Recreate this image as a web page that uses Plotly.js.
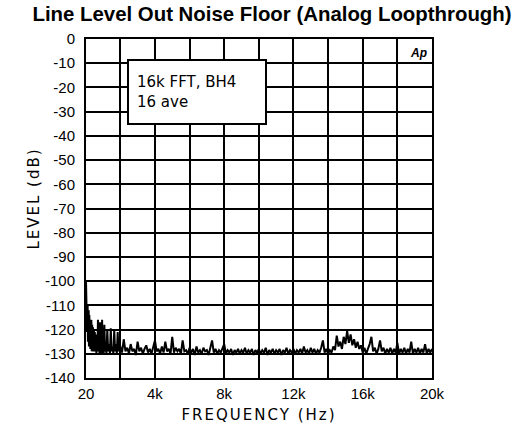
<!DOCTYPE html>
<html><head><meta charset="utf-8">
<script src="https://cdn.plot.ly/plotly-3.0.1.min.js"></script>
<style>html,body{margin:0;padding:0;background:#fff}#chart{width:517px;height:429px}
#chart .xtitle, #chart .ytitle{letter-spacing:2px}</style>
</head><body><div id="chart"></div>
<script>
const titleText = "Line Level Out Noise Floor (Analog Loopthrough)";
const xTickVals = [20, 4000, 8000, 12000, 16000, 20000];
const xTickText = ["20", "4k", "8k", "12k", "16k", "20k"];
const yTickVals = [0,-10,-20,-30,-40,-50,-60,-70,-80,-90,-100,-110,-120,-130,-140];
const yTickText = ["0","-10","-20","-30","-40","-50","-60","-70","-80","-90","-100","-110","-120","-130","-140"];

const freqLow = [20,25,30,35,40,45,50,60,70,80,90,100,115,130,145,160,175,190,210,230,250,270,290,310,330,350,375,400,425,450,475,500,530,560,590,620,650,680,710,740,770,800,830,860,890,920,950,980,1010,1040,1080,1120,1160,1200,1250,1300,1350,1400,1450,1500,1550,1600,1650,1700,1750,1800,1850,1900,1950];
const levelLow = [-100,-106,-103,-112,-105,-116,-107,-119,-109,-121,-111,-124,-110,-125,-113,-126,-112,-127,-114,-127,-115,-128,-117,-128,-116,-129,-118,-128,-119,-129,-120,-129,-121,-129,-122,-130,-123,-129,-116,-129,-124,-130,-117,-129,-125,-130,-116,-129,-125,-130,-118,-129,-126,-130,-120,-129,-126,-130,-119.5,-129,-127,-130,-120,-129,-126,-130,-121,-129,-125];

const freqHigh = [2000,2100,2200,2300,2400,2500,2600,2700,2800,2900,3000,3100,3200,3300,3400,3500,3600,3700,3800,3900,
4000,4100,4200,4300,4400,4500,4600,4700,4800,4900,5000,5100,5200,5300,5400,5500,5600,5700,5800,5900,
6000,6100,6200,6300,6400,6500,6600,6700,6800,6900,7000,7100,7200,7300,7400,7500,7600,7700,7800,7900,
8000,8100,8200,8300,8400,8500,8600,8700,8800,8900,9000,9100,9200,9300,9400,9500,9600,9700,9800,9900,
10000,10100,10200,10300,10400,10500,10600,10700,10800,10900,11000,11100,11200,11300,11400,11500,11600,11700,11800,11900,
12000,12100,12200,12300,12400,12500,12600,12700,12800,12900,13000,13100,13200,13300,13400,13500,13600,13700,13800,13900,
14000,14100,14200,14300,14400,14500,14600,14700,14800,14900,15000,15100,15200,15300,15400,15500,15600,15700,15800,15900,
16000,16100,16200,16300,16400,16500,16600,16700,16800,16900,17000,17100,17200,17300,17400,17500,17600,17700,17800,17900,
18000,18100,18200,18300,18400,18500,18600,18700,18800,18900,19000,19100,19200,19300,19400,19500,19600,19700,19800,19900,20000];
const levelHigh = [-127,-129.5,-124,-129,-127.5,-130,-126,-129,-128,-130.5,-125,-129,-127.5,-130,-128,-126.5,-129.5,-128,-130,-127.5,
-124.5,-129,-128,-130,-127,-129.5,-125,-129,-128,-130,-123,-129.5,-127.5,-129,-128,-130,-124.5,-129,-128.5,-130,
-127.5,-129.5,-128,-130.5,-127,-129.5,-128.5,-130,-127.5,-129,-128.5,-130.5,-127.5,-124.5,-129.5,-128,-130,-128.5,-129.5,-127.5,
-126,-130,-128.5,-129.5,-128,-130.5,-128.5,-129.5,-128,-130,-128.5,-129.5,-127.5,-130,-128.5,-129.5,-128,-130.5,-128.5,-129.5,
-128,-130,-128.5,-129.5,-127.5,-130.5,-128.5,-129.5,-128,-130,-128.5,-129.5,-128,-130.5,-128.5,-129.5,-127.5,-130,-128.5,-129.5,
-128,-130,-128.5,-129.5,-128,-130,-127,-129.5,-128.5,-130,-127.5,-129.5,-128,-130,-128.5,-129.5,-127.5,-124.5,-129.5,-128,
-130,-128.5,-129.5,-127,-128.5,-122.5,-127,-125,-128,-123,-126,-120.5,-125.5,-122,-126.5,-124,-127.5,-125,-128,-126.5,
-129.5,-127.5,-130,-128,-126,-123,-129,-127.5,-130,-128,-124.5,-129,-127.5,-130,-128,-129.5,-127.5,-130,-128,-129.5,
-125.5,-130,-128,-129.5,-127.5,-130,-128,-129.5,-125,-130,-128,-129.5,-127.5,-130,-128,-129.5,-126,-130,-128,-129.5,-128];

const freq = freqLow.concat(freqHigh);
const level = levelLow.concat(levelHigh);

const tickFont = {family: "Liberation Sans, Arial, sans-serif", size: 15, color: "#000"};
const labelFont = {family: "DejaVu Sans, sans-serif", size: 15, color: "#000"};

const data = [{
  x: freq, y: level, type: "scatter", mode: "lines",
  line: {color: "#000", width: 2}, hoverinfo: "skip"
}];

const layout = {
  width: 517, height: 429,
  margin: {l: 86, r: 85, t: 39, b: 51},
  paper_bgcolor: "#fff", plot_bgcolor: "#fff",
  showlegend: false,
  title: {text: "<b>" + titleText + "</b>", font: {family: "Liberation Sans, Arial, sans-serif", size: 20.4, color: "#000"},
          x: 0.5376, xref: "paper", xanchor: "center", y: 0.967, yref: "container", yanchor: "middle"},
  xaxis: {
    range: [20, 20000], tickmode: "array", tickvals: xTickVals, ticktext: xTickText,
    showgrid: true, gridcolor: "#000", gridwidth: 2,
    minor: {tickmode: "linear", tick0: 0, dtick: 2000, showgrid: true, gridcolor: "#000", gridwidth: 2, ticks: ""},
    showline: true, mirror: true, linecolor: "#000", linewidth: 2,
    ticks: "", ticklabelstandoff: 1, tickfont: tickFont, zeroline: false,
    title: {text: "FREQUENCY (Hz)", font: labelFont, standoff: 8}
  },
  yaxis: {
    range: [-140, 0], tickmode: "array", tickvals: yTickVals, ticktext: yTickText,
    showgrid: true, gridcolor: "#000", gridwidth: 2,
    showline: true, mirror: true, linecolor: "#000", linewidth: 2,
    ticks: "", ticklabelstandoff: 6, tickfont: tickFont, zeroline: false,
    title: {text: "LEVEL (dB)", font: labelFont, standoff: 2}
  },
  annotations: [
    {text: "16k FFT, BH4<br>16 ave", xref: "paper", yref: "paper", x: 0.1185, y: 0.941,
     xanchor: "left", yanchor: "top", align: "left", showarrow: false,
     font: {family: "DejaVu Sans, sans-serif", size: 15, color: "#000"},
     bgcolor: "#fff", bordercolor: "#000", borderwidth: 2, borderpad: 8, width: 120, height: 46},
    {text: "<b><i>Ap</i></b>", xref: "paper", yref: "paper", x: 0.99, y: 0.985,
     xanchor: "right", yanchor: "top", showarrow: false,
     font: {family: "Liberation Sans, Arial, sans-serif", size: 12, color: "#000"}}
  ]
};

Plotly.newPlot("chart", data, layout, {displayModeBar: false, staticPlot: true}).then(function () {
  const yt = document.querySelector("#chart .ytitle");
  if (yt) { yt.setAttribute("x", String(parseFloat(yt.getAttribute("x")) + 10)); }
});
</script></body></html>
